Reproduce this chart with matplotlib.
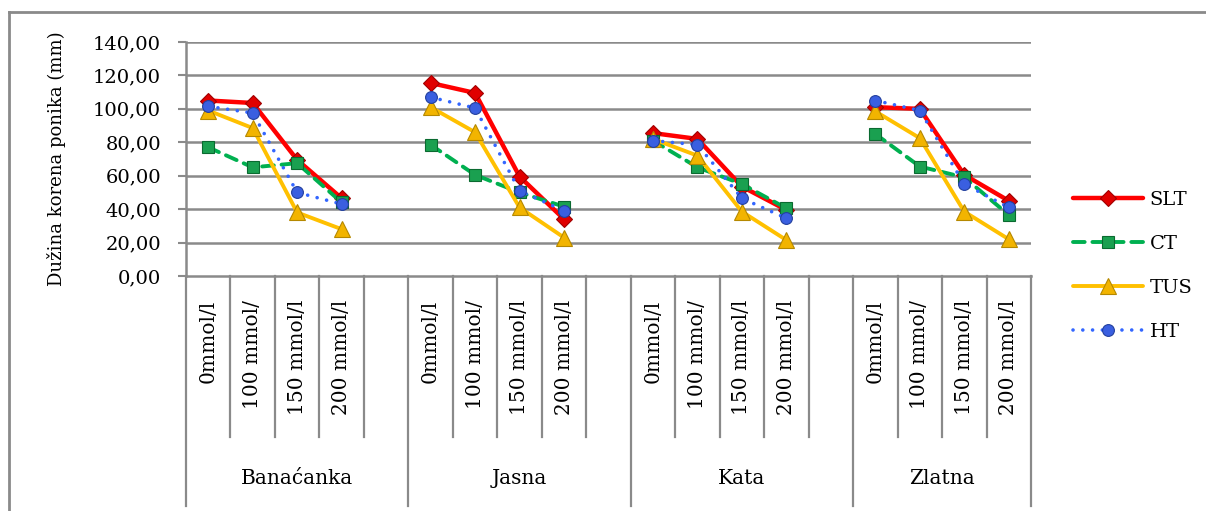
import matplotlib
matplotlib.use("Agg")
import matplotlib.pyplot as plt
import numpy as np
from matplotlib.lines import Line2D

plt.rcParams['font.family'] = ['DejaVu Serif']

groups = ["Banaćanka", "Jasna", "Kata", "Zlatna"]
concentrations = ["0mmol/l", "100 mmol/", "150 mmol/l", "200 mmol/l"]
yticks = [0, 20, 40, 60, 80, 100, 120, 140]

# values per group: [0, 100, 150, 200 mmol/l]
slt = [[105, 103.5, 69.5, 46.5], [115.5, 109.5, 59.5, 34.0], [85.5, 82, 53.5, 39.5], [101, 100, 60.5, 45]]
ct = [[77, 65, 67.5, 44], [78.5, 60.5, 50, 41.5], [81, 65, 55, 40.5], [85, 65.5, 59, 36.5]]
tus = [[99, 88.5, 38, 28], [101, 86, 41, 23], [82, 72, 38.5, 21.5], [98.5, 82.5, 38.5, 22]]
ht = [[101.5, 97.5, 50, 43], [107, 100.5, 51, 39], [81, 78.5, 46.5, 34.5], [105, 99, 55, 41]]

W, H, DPI = 12.06, 5.11, 100
fig = plt.figure(figsize=(W, H), dpi=DPI)
PX = lambda x: x / 1206
PY = lambda y: 1 - y / 511

ax = fig.add_axes([PX(186), PY(276), PX(1031) - PX(186), PY(42) - PY(276)])
nslots = 5 * len(groups) - 1
ax.set_xlim(0, nslots)
ax.set_ylim(0, 140)

def series_xy(vals):
    xs, ys = [], []
    for g, gv in enumerate(vals):
        for s, v in enumerate(gv):
            xs.append(g * 5 + s + 0.5)
            ys.append(v)
        xs.append(np.nan)
        ys.append(np.nan)
    return xs, ys

styles = [
    ("SLT", slt, dict(color="#FF0000", lw=3.2, ls="-", marker="D", ms=8.5, mfc="#E00000", mec="#A00000", mew=0.8)),
    ("CT", ct, dict(color="#00B050", lw=2.8, ls=(0, (3, 2)), marker="s", ms=8, mfc="#1AA050", mec="#0A6A30", mew=0.8)),
    ("TUS", tus, dict(color="#FFC000", lw=2.8, ls="-", marker="^", ms=11, mfc="#F2B400", mec="#B58800", mew=0.8)),
    ("HT", ht, dict(color="#3366FF", lw=2.6, ls=(0, (0.01, 2.7)), marker="o", ms=8.5, mfc="#3A5FE0", mec="#23409E", mew=0.8)),
]
handles = []
for i, (name, vals, st) in enumerate(styles):
    xs, ys = series_xy(vals)
    ln, = ax.plot(xs, ys, label=name, zorder=5 + i, solid_capstyle="round", dash_capstyle="round", **st)
    handles.append(ln)

# gridlines
for v in yticks[1:]:
    ax.axhline(v, color="#8a8a8a", lw=1.8, zorder=1)

for sp in ["top", "right"]:
    ax.spines[sp].set_visible(False)
for sp in ["left", "bottom"]:
    ax.spines[sp].set_color("#8a8a8a")
    ax.spines[sp].set_linewidth(1.8)

ax.set_yticks(yticks)
ax.set_yticklabels([f"{v:.2f}".replace(".", ",") for v in yticks], fontsize=14)
ax.tick_params(axis="y", direction="out", length=6, width=1.5, color="#8a8a8a", pad=12)
ax.set_xticks([])
ax.set_ylabel("Dužina korena ponika (mm)", fontsize=13)
ax.yaxis.set_label_coords(-(186 - 66) / 845, 0.5)

trans = ax.get_xaxis_transform()
ax_h_px = 276 - 42
y437 = -(437 - 276) / ax_h_px
y506 = -(506 - 276) / ax_h_px
y300 = -(300 - 276) / ax_h_px
y478 = -(478 - 276) / ax_h_px

for g, gname in enumerate(groups):
    start = g * 5
    nsl = 5 if g < len(groups) - 1 else 4
    for s in range(1, nsl):
        ax.plot([start + s, start + s], [0, y437], transform=trans, color="#8a8a8a", lw=1.6, clip_on=False, zorder=1)
    for s, c in enumerate(concentrations):
        ax.text(start + s + 0.5, y300, c, transform=trans, rotation=90, ha="center", va="top", fontsize=14.5)
    ax.text(start + nsl / 2, y478, gname, transform=trans, ha="center", va="center", fontsize=14.5)
    ax.plot([start, start], [0, y506], transform=trans, color="#8a8a8a", lw=1.6, clip_on=False, zorder=1)
ax.plot([nslots, nslots], [0, y506], transform=trans, color="#8a8a8a", lw=1.6, clip_on=False, zorder=1)

# outer border
fig.add_artist(Line2D([PX(9), PX(9)], [PY(12), 0], color="#8a8a8a", lw=2))
fig.add_artist(Line2D([PX(9), 1], [PY(12), PY(12)], color="#8a8a8a", lw=2))

leg = fig.legend(handles=handles, loc="center left", bbox_to_anchor=(PX(1065), PY(266)),
                 frameon=False, fontsize=14, handlelength=3.6, handletextpad=0.35,
                 labelspacing=1.33, borderaxespad=0)

fig.savefig("out.png", dpi=DPI)
